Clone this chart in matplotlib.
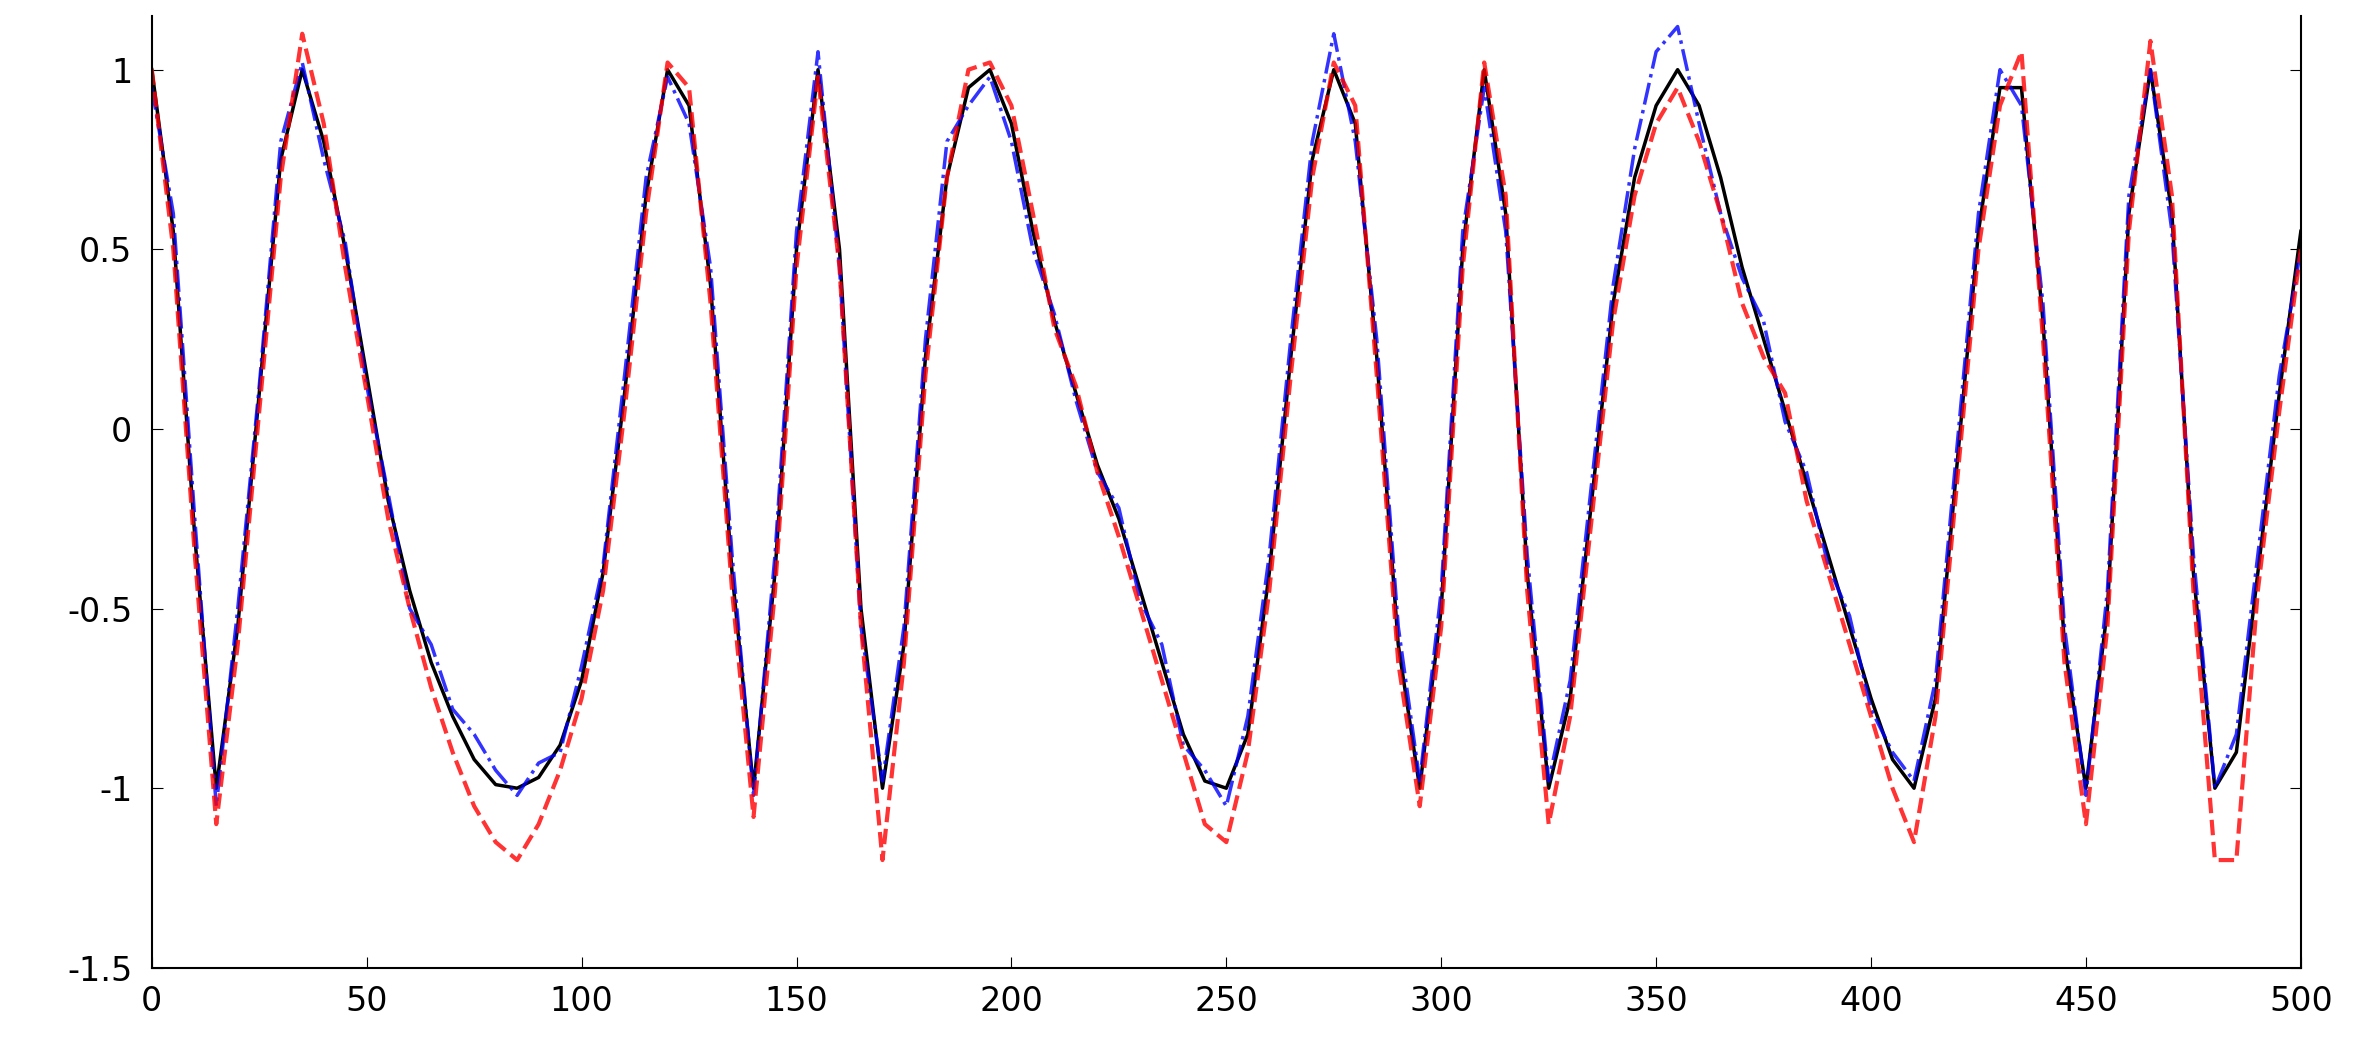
import numpy as np
import matplotlib.pyplot as plt

x = np.arange(0, 505, 5)

# underlying signal (black), read every 5 samples
clean = [1.0, 0.55, -0.3, -1.0, -0.55, 0.1, 0.75, 1.0, 0.8, 0.5,
         0.15, -0.2, -0.45, -0.65, -0.8, -0.92, -0.99, -1.0, -0.97, -0.88,
         -0.7, -0.4, 0.1, 0.65, 1.0, 0.9, 0.4, -0.4, -1.0, -0.4,
         0.5, 1.0, 0.5, -0.5, -1.0, -0.6, 0.2, 0.7, 0.95, 1.0,
         0.85, 0.55, 0.3, 0.1, -0.1, -0.25, -0.45, -0.65, -0.85, -0.98,
         -1.0, -0.85, -0.4, 0.2, 0.75, 1.0, 0.85, 0.2, -0.6, -1.0,
         -0.5, 0.5, 1.0, 0.6, -0.4, -1.0, -0.75, -0.2, 0.35, 0.7,
         0.9, 1.0, 0.9, 0.7, 0.45, 0.25, 0.05, -0.15, -0.35, -0.55,
         -0.75, -0.92, -1.0, -0.75, -0.1, 0.55, 0.95, 0.95, 0.3, -0.6,
         -1.0, -0.5, 0.6, 1.0, 0.6, -0.4, -1.0, -0.9, -0.4, 0.1, 0.55]

# blue estimate (dash-dot)
blue = [0.95, 0.6, -0.25, -1.05, -0.5, 0.12, 0.8, 1.02, 0.75, 0.52,
        0.12, -0.18, -0.5, -0.6, -0.78, -0.85, -0.95, -1.02, -0.93, -0.9,
        -0.66, -0.38, 0.15, 0.7, 0.98, 0.85, 0.45, -0.35, -1.02, -0.35,
        0.55, 1.05, 0.45, -0.55, -0.98, -0.55, 0.25, 0.8, 0.9, 0.98,
        0.8, 0.5, 0.32, 0.08, -0.12, -0.22, -0.48, -0.6, -0.88, -0.95,
        -1.05, -0.8, -0.35, 0.25, 0.8, 1.1, 0.8, 0.25, -0.55, -0.98,
        -0.45, 0.55, 0.95, 0.55, -0.35, -0.98, -0.7, -0.15, 0.4, 0.78,
        1.05, 1.12, 0.85, 0.6, 0.42, 0.3, 0.02, -0.12, -0.38, -0.52,
        -0.78, -0.9, -0.98, -0.7, -0.05, 0.6, 1.0, 0.9, 0.35, -0.55,
        -1.02, -0.45, 0.65, 1.0, 0.55, -0.35, -1.0, -0.85, -0.35, 0.15, 0.5]

# red estimate (dashed)
red = [1.0, 0.5, -0.35, -1.1, -0.6, 0.05, 0.7, 1.1, 0.85, 0.45,
       0.1, -0.25, -0.5, -0.72, -0.9, -1.05, -1.15, -1.2, -1.1, -0.95,
       -0.75, -0.45, 0.05, 0.6, 1.02, 0.95, 0.35, -0.45, -1.08, -0.45,
       0.45, 0.98, 0.45, -0.55, -1.2, -0.65, 0.15, 0.7, 1.0, 1.02,
       0.9, 0.6, 0.28, 0.12, -0.12, -0.3, -0.5, -0.7, -0.9, -1.1,
       -1.15, -0.9, -0.45, 0.15, 0.7, 1.02, 0.9, 0.15, -0.65, -1.05,
       -0.55, 0.45, 1.02, 0.65, -0.45, -1.1, -0.8, -0.25, 0.3, 0.65,
       0.85, 0.95, 0.8, 0.6, 0.35, 0.2, 0.1, -0.2, -0.4, -0.6,
       -0.8, -1.0, -1.15, -0.8, -0.15, 0.5, 0.9, 1.05, 0.25, -0.65,
       -1.1, -0.55, 0.55, 1.08, 0.65, -0.45, -1.2, -1.2, -0.45, 0.05, 0.5]

fig = plt.figure(figsize=(23.72, 10.52), dpi=100)
ax = fig.add_axes([0.064, 0.08, 0.906, 0.905])
ax.plot(x, clean, color='black', lw=2.5)
ax.plot(x, blue, color='blue', lw=2.5, ls='-.', alpha=0.8)
ax.plot(x, red, color='red', lw=3, ls='--', alpha=0.8)

ax.set_xlim(0, 500)
ax.set_ylim(-1.5, 1.15)
ax.set_xticks(np.arange(0, 501, 50))
ax.set_yticks([-1.5, -1, -0.5, 0, 0.5, 1])
ax.set_yticklabels(['-1.5', '-1', '-0.5', '0', '0.5', '1'])
ax.tick_params(labelsize=24, direction='in', length=8, top=False, right=True)
ax.tick_params(axis='x', pad=12)
ax.tick_params(axis='y', pad=14)
for s in ax.spines.values():
    s.set_linewidth(1.5)
ax.spines['top'].set_visible(False)

fig.savefig('out.png')
